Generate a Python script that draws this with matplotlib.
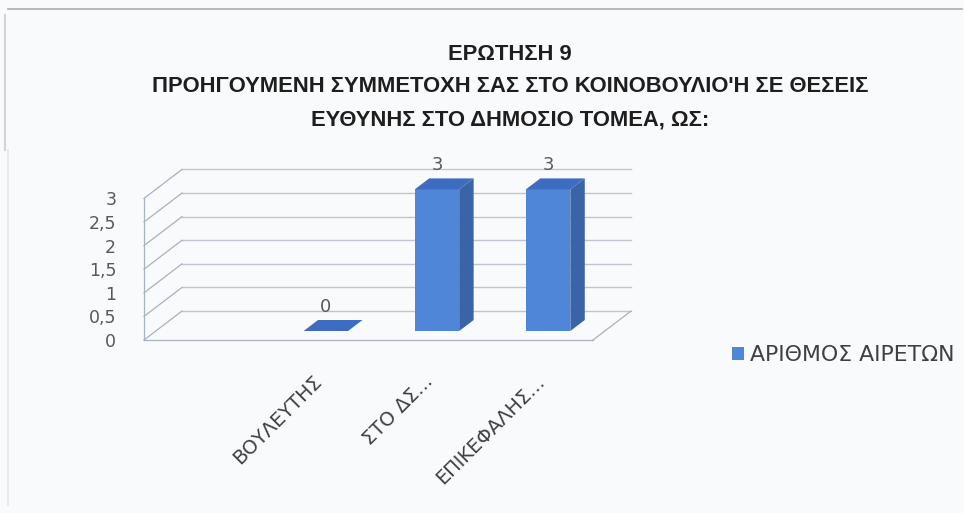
import numpy as np
import matplotlib
matplotlib.use("Agg")
import matplotlib.pyplot as plt
from matplotlib.patches import Polygon
from matplotlib.lines import Line2D

categories = ["ΒΟΥΛΕΥΤΗΣ", "ΣΤΟ ΔΣ...", "ΕΠΙΚΕΦΑΛΗΣ..."]
values = [0, 3, 3]
series_name = "ΑΡΙΘΜΟΣ ΑΙΡΕΤΩΝ"
yticks = [0, 0.5, 1, 1.5, 2, 2.5, 3]
ytick_labels = ["0", "0,5", "1", "1,5", "2", "2,5", "3"]
title = "ΕΡΩΤΗΣΗ 9\nΠΡΟΗΓΟΥΜΕΝΗ ΣΥΜΜΕΤΟΧΗ ΣΑΣ ΣΤΟ ΚΟΙΝΟΒΟΥΛΙΟ'Η ΣΕ ΘΕΣΕΙΣ\nΕΥΘΥΝΗΣ ΣΤΟ ΔΗΜΟΣΙΟ ΤΟΜΕΑ, ΩΣ:"

title_font = "Liberation Sans"
body_font = "DejaVu Sans"

W, H = 964, 513
fig = plt.figure(figsize=(W / 100, H / 100), dpi=100)
bg = "#f9fafb"
fig.patch.set_facecolor(bg)

ax = fig.add_axes([144 / W, (H - 340) / H, 449 / W, 177 / H])
ax.set_facecolor("none")
XMIN, XMAX = -1.53, 2.51
ax.set_xlim(XMIN, XMAX)
ax.set_ylim(0, 3.75)
for s in ax.spines.values():
    s.set_visible(False)

# oblique depth vector (data units) for full wall depth
DX, DY = 0.342, 0.614
grid_c = "#bfc6d2"
edge_c = "#a9b2c1"

for y in yticks:
    ax.plot([XMIN + DX, XMAX + DX], [y + DY, y + DY], color=grid_c, lw=1.0, zorder=1, clip_on=False)
    ax.plot([XMIN, XMIN + DX], [y, y + DY], color=edge_c, lw=0.9, zorder=1, clip_on=False)
ax.plot([XMIN, XMIN], [0, 3], color=edge_c, lw=0.9, zorder=1, clip_on=False)
ax.plot([XMIN, XMAX], [0, 0], color=edge_c, lw=0.9, zorder=1, clip_on=False)
ax.plot([XMAX, XMAX + DX], [0, DY], color=edge_c, lw=0.9, zorder=1, clip_on=False)

cats = np.arange(len(categories))
d0, db = 0.31, 0.38
w = 0.4
front_c = "#5086d8"
side_c = "#3b63a8"
top_c = "#3e6cc0"
xs = cats + d0 * DX
b = d0 * DY
bars = ax.bar(xs, values, width=w, bottom=b, color=front_c, zorder=3, label=series_name)
for x, v in zip(xs, values):
    xl, xr = x - w / 2, x + w / 2
    ddx, ddy = db * DX, db * DY
    side = Polygon([(xr, b), (xr, b + v), (xr + ddx, b + v + ddy), (xr + ddx, b + ddy)],
                   closed=True, facecolor=side_c, edgecolor="none", zorder=3, clip_on=False)
    top = Polygon([(xl, b + v), (xr, b + v), (xr + ddx, b + v + ddy), (xl + ddx, b + v + ddy)],
                  closed=True, facecolor=top_c, edgecolor="none", zorder=4, clip_on=False)
    ax.add_patch(side)
    ax.add_patch(top)
    ax.annotate(f"{v}", (x, b + v), xytext=(0, 17.5), textcoords="offset points",
                ha="center", va="center", fontsize=13, color="#595959", family=body_font, zorder=5)

ax.set_yticks(yticks)
ax.set_yticklabels(ytick_labels, family=body_font, fontsize=12.5, color="#595959")
ax.tick_params(axis="y", length=0, pad=20)
ax.set_xticks(xs - 0.12)
ax.set_xticklabels(categories, rotation=45, ha="right", va="top", rotation_mode="anchor",
                   family=body_font, fontsize=14, color="#404040")
ax.tick_params(axis="x", length=0, pad=23)

fig.text(510 / W, 1 - 87 / H, title, ha="center", va="center", fontsize=15.8, fontweight="bold",
         family=title_font, color="#1e1e1e", linespacing=1.72)

leg = fig.legend(handles=[bars], loc="center left", bbox_to_anchor=(712 / W, 1 - 355 / H),
                 frameon=False, handlelength=0.55, handleheight=0.55, handletextpad=0.3,
                 prop={"family": body_font, "size": 15.8})
for t in leg.get_texts():
    t.set_color("#404040")

fig.add_artist(Line2D([8 / W, 962 / W], [1 - 9 / H, 1 - 9 / H], color="#a8acb0", lw=1.2))
fig.add_artist(Line2D([5 / W, 5 / W], [1 - 15 / H, 1 - 150 / H], color="#d0d4d8", lw=1.5))
fig.add_artist(Line2D([8 / W, 8 / W], [1 - 150 / H, 1 - 505 / H], color="#e4e6e8", lw=1.2))

fig.savefig("out.png", dpi=100, facecolor=bg)
